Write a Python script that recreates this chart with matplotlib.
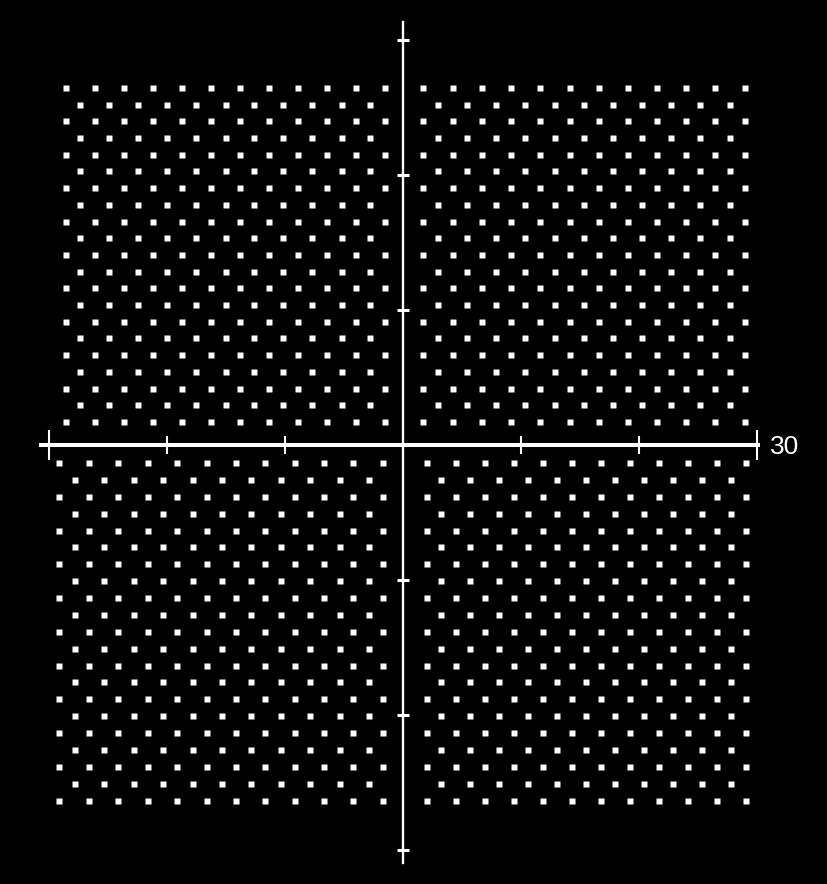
import matplotlib
matplotlib.use("Agg")
import matplotlib.pyplot as plt
import numpy as np

##Dot lattice (data units, x: 11.8 px/unit, y: 13.5 px/unit)
#rows of the upper half (full rows and half-shifted rows)
top_rows_full = [26.42, 23.95, 21.47, 19.00, 16.53, 14.05, 11.58, 9.10, 6.63, 4.16, 1.68]
top_rows_half = [25.19, 22.71, 20.24, 17.76, 15.29, 12.82, 10.34, 7.87, 5.39, 2.92]
#rows of the lower half
bot_rows_full = [-1.36, -3.86, -6.36, -8.86, -11.36, -13.86, -16.36, -18.86, -21.36, -23.86, -26.36]
bot_rows_half = [-2.61, -5.11, -7.61, -10.11, -12.61, -15.11, -17.61, -20.11, -22.61, -25.11]

#columns of every quadrant
tl_cols_full = [-28.60, -26.14, -23.69, -21.23, -18.77, -16.31, -13.86, -11.40, -8.94, -6.48, -4.03, -1.57]
tl_cols_half = [-27.37, -24.92, -22.46, -20.00, -17.54, -15.08, -12.63, -10.17, -7.71, -5.25, -2.80]
tr_cols_full = [1.69, 4.17, 6.64, 9.12, 11.59, 14.07, 16.54, 19.02, 21.49, 23.97, 26.44, 28.92]
tr_cols_half = [2.90, 5.37, 7.85, 10.32, 12.80, 15.27, 17.75, 20.22, 22.69, 25.17, 27.64]
bl_cols_full = [-29.15, -26.66, -24.17, -21.68, -19.19, -16.69, -14.20, -11.71, -9.22, -6.73, -4.24, -1.75]
bl_cols_half = [-27.84, -25.35, -22.86, -20.36, -17.87, -15.38, -12.89, -10.40, -7.91, -5.42, -2.92]
br_cols_full = [1.97, 4.42, 6.88, 9.34, 11.80, 14.25, 16.71, 19.17, 21.63, 24.08, 26.54, 29.00]
br_cols_half = [3.18, 5.64, 8.09, 10.55, 13.01, 15.47, 17.92, 20.38, 22.84, 25.30, 27.75]

x_ticks_end = [-30, 30]          #long ticks at the ends of the x axis
x_ticks_mid = [-20, -10, 10, 20]
y_ticks = [-30, -20, -10, 10, 20, 30]
x_label = "30"

quadrants = [
    (tl_cols_full, tl_cols_half, top_rows_full, top_rows_half),
    (tr_cols_full, tr_cols_half, top_rows_full, top_rows_half),
    (bl_cols_full, bl_cols_half, bot_rows_full, bot_rows_half),
    (br_cols_full, br_cols_half, bot_rows_full, bot_rows_half),
]

fig = plt.figure(figsize=(8.27, 8.84), dpi=100, facecolor="black")
ax = fig.add_axes([0, 0, 1, 1])
ax.set_facecolor("black")

##Dots
for cf, ch, rf, rh in quadrants:
    for cols, rows in ((cf, rf), (ch, rh)):
        X, Y = np.meshgrid(cols, rows)
        ax.plot(X.ravel(), Y.ravel(), ls="none", marker="s", ms=3.8,
                mfc="white", mec="none")

##Axes through the origin
ax.set_xlim(-34.19, 35.89)
ax.set_ylim(-32.54, 32.94)
for s in ("top", "right"):
    ax.spines[s].set_visible(False)
ax.spines["bottom"].set_position(("data", 0))
ax.spines["left"].set_position(("data", 0))
ax.spines["bottom"].set_bounds(-30.7, 30.05)
ax.spines["left"].set_bounds(-31.0, 31.3)
ax.spines["bottom"].set_color("white")
ax.spines["left"].set_color("white")
ax.spines["bottom"].set_linewidth(2.9)
ax.spines["left"].set_linewidth(1.7)

ax.set_xticks(x_ticks_end)
ax.set_xticks(x_ticks_mid, minor=True)
ax.set_yticks(y_ticks)
ax.tick_params(axis="x", which="major", direction="inout", length=21.5, width=1.5,
               color="white", labelbottom=False)
ax.tick_params(axis="x", which="minor", direction="inout", length=13, width=1.5,
               color="white")
ax.tick_params(axis="y", which="major", direction="inout", length=8.6, width=2.2,
               color="white", labelleft=False)

ax.annotate(x_label, xy=(x_ticks_end[-1], 0), xytext=(9, -2), textcoords="offset points",
            ha="left", va="center", color="white", fontsize=19,
            family=["Liberation Sans", "DejaVu Sans"])

fig.savefig("out.png", dpi=100, facecolor="black")
